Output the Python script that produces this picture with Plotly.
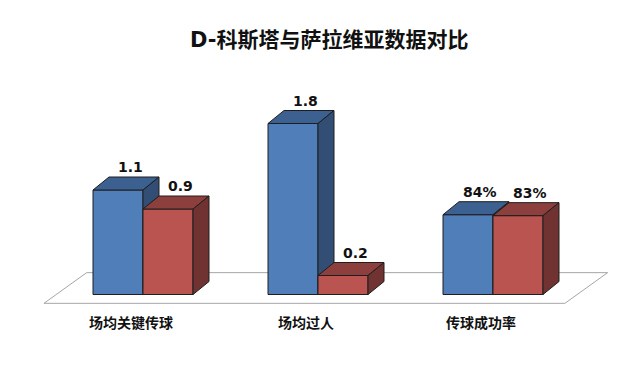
import plotly.graph_objects as go

# ---- data ----
categories = ["场均关键传球", "场均过人", "传球成功率"]
series_names = ["D-科斯塔", "萨拉维亚"]
costa_values = [1.1, 1.8, 0.84]
salavia_values = [0.9, 0.2, 0.83]
costa_labels = ["1.1", "1.8", "84%"]
salavia_labels = ["0.9", "0.2", "83%"]
title_text = "D-科斯塔与萨拉维亚数据对比"

# ---- style / geometry ----
W, H = 640, 386
OFF = 8        # page body margin
PX_X = 175.0   # pixels per category unit
PX_Y = 95.0    # pixels per value unit
X0_PX = 143.0 - OFF  # pixel of category 0 centre (inside figure)
Y0_PX = 294.5 - OFF  # pixel of baseline
BAR_W = 50 / PX_X
DX = 16 / PX_X
DY = 13 / PX_Y

colors = {
    0: dict(front="#4F7EB8", top="#3C6190", side="#324E74"),
    1: dict(front="#BA5450", top="#8C3F3D", side="#713332"),
}
EDGE = "#1e1e1e"
FONT_LAT = "Verdana, DejaVu Sans, Noto Sans CJK SC"

fig = go.Figure()


def poly(xs, ys, fill, line_color=EDGE, width=1):
    fig.add_trace(go.Scatter(
        x=list(xs) + [xs[0]], y=list(ys) + [ys[0]], mode="lines", fill="toself",
        fillcolor=fill, line=dict(color=line_color, width=width),
        hoverinfo="skip", showlegend=False))


# floor
n = len(categories)
fl_left, fl_right = -0.566, (n - 1) + 0.411
fl_front, fl_back = -0.093, 0.23
fl_dx = 42.7 / PX_X
poly([fl_left, fl_right, fl_right + fl_dx, fl_left + fl_dx],
     [fl_front, fl_front, fl_back, fl_back], "#FFFFFF", "#A6A6A6", 1)

series = [costa_values, salavia_values]
labels = [costa_labels, salavia_labels]

for i in range(n):
    for s in range(2):
        v = series[s][i]
        x1 = i - BAR_W if s == 0 else i
        x2 = x1 + BAR_W
        c = colors[s]
        # front
        poly([x1, x2, x2, x1], [0, 0, v, v], c["front"])
        # top
        poly([x1, x2, x2 + DX, x1 + DX], [v, v, v + DY, v + DY], c["top"])
        # side
        poly([x2, x2 + DX, x2 + DX, x2], [0, DY, v + DY, v], c["side"])
        fig.add_annotation(
            x=(x1 + x2) / 2 + 0.75 * DX, y=v + DY, yshift=10,
            text="<b>" + labels[s][i] + "</b>", showarrow=False,
            font=dict(family=FONT_LAT, size=14, color="#111111"),
            xanchor="center", yanchor="middle")

for i, cat in enumerate(categories):
    fig.add_annotation(
        x=i - 12 / PX_X, y=-(322 - OFF - Y0_PX) / PX_Y, text="<b>" + cat + "</b>",
        showarrow=False, font=dict(family="Noto Sans CJK SC", size=14, color="#111111"),
        xanchor="center", yanchor="middle")

fig.add_annotation(
    xref="paper", yref="paper", x=(329 - OFF) / W, y=1 - (40 - OFF) / H,
    text="<b>" + title_text + "</b>", showarrow=False,
    font=dict(family=FONT_LAT, size=21, color="#111111"),
    xanchor="center", yanchor="middle")

fig.update_layout(
    width=W, height=H, margin=dict(l=0, r=0, t=0, b=0),
    paper_bgcolor="white", plot_bgcolor="white", showlegend=False,
    xaxis=dict(range=[-X0_PX / PX_X, (W - X0_PX) / PX_X], visible=False, fixedrange=True),
    yaxis=dict(range=[-(H - Y0_PX) / PX_Y, Y0_PX / PX_Y], visible=False, fixedrange=True),
)

fig.write_html("out.html")
